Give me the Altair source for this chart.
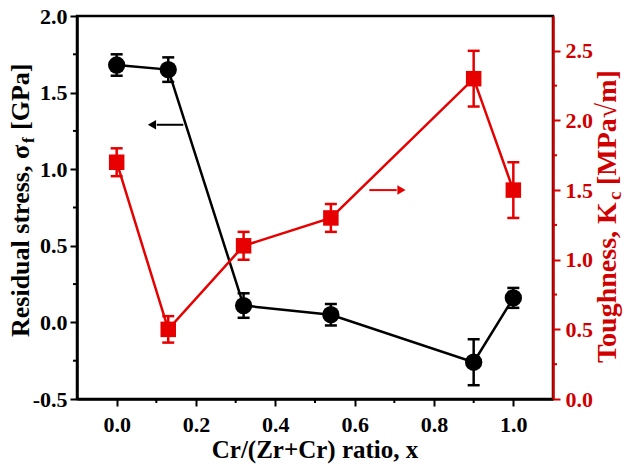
import altair as alt
import pandas as pd

# ---- data ----
ratio = [0.0, 0.13, 0.32, 0.54, 0.90, 1.00]
stress = [1.68, 1.65, 0.11, 0.05, -0.26, 0.16]
stress_err = [0.07, 0.08, 0.08, 0.07, 0.15, 0.065]
tough = [1.70, 0.50, 1.10, 1.30, 2.30, 1.50]
tough_err = [0.10, 0.095, 0.10, 0.10, 0.20, 0.20]

x_major = [0.0, 0.2, 0.4, 0.6, 0.8, 1.0]
x_minor = [0.1, 0.3, 0.5, 0.7, 0.9]
left_major = [-0.5, 0.0, 0.5, 1.0, 1.5, 2.0]
left_minor = [-0.25, 0.25, 0.75, 1.25, 1.75]
right_major = [0.0, 0.5, 1.0, 1.5, 2.0, 2.5]
right_minor = [0.25, 0.75, 1.25, 1.75, 2.25]

# annotation arrows (data units)
arrow_left_x = [0.168, 0.089]   # tail, head
arrow_left_y = [1.29]
arrow_right_x = [0.637, 0.718]  # tail, head
arrow_right_y = [1.50]

FONT = "Liberation Serif"
BLACK = "#000000"
RED = "#e60000"
RED_TXT = "#d00000"
LW = 2.5

df = pd.DataFrame({"x": ratio, "s": stress, "se": stress_err,
                   "t": tough, "te": tough_err})

xscale = alt.Scale(domain=[-0.1, 1.1], nice=False, zero=False)
lscale = alt.Scale(domain=[-0.5, 2.0], nice=False, zero=False)
rscale = alt.Scale(domain=[0.0, 2.75], nice=False, zero=False)


def axis(values, color, orient, pad):
    return alt.Axis(
        values=values, orient=orient, title=None, grid=False, format=".1f",
        labelExpr="replace(datum.label, '\u2212', '-')",
        tickSize=7, tickWidth=2, tickColor=color, domainColor=color,
        domainWidth=LW, labelColor=color, labelFont=FONT,
        labelFontWeight="bold", labelFontSize=22, labelPadding=pad,
        labelFlush=False, labelOverlap=False,
    )


xaxis = axis(x_major, BLACK, "bottom", 8)
laxis = axis(left_major, BLACK, "left", 3)
raxis = axis(right_major, RED_TXT, "right", 5)

base = alt.Chart(df)
X = alt.X("x:Q", scale=xscale, axis=xaxis)
Xs = alt.X("x:Q", scale=xscale)

# ---- minor ticks drawn through the scales ----
mx = alt.Chart(pd.DataFrame({"x": x_minor})).mark_rule(
    color=BLACK, strokeWidth=2).encode(
    Xs, y=alt.value(383), y2=alt.value(387))
ml = alt.Chart(pd.DataFrame({"s": left_minor})).mark_rule(
    color=BLACK, strokeWidth=2).encode(
    alt.Y("s:Q", scale=lscale), x=alt.value(0), x2=alt.value(-4))
mr = alt.Chart(pd.DataFrame({"t": right_minor})).mark_rule(
    color=RED_TXT, strokeWidth=2).encode(
    alt.Y("t:Q", scale=rscale), x=alt.value(476), x2=alt.value(480))

# ---- stress (left axis, black) ----
s_line = base.mark_line(color=BLACK, strokeWidth=LW).encode(
    X, alt.Y("s:Q", scale=lscale, axis=laxis))
s_err = base.transform_calculate(
    lo="datum.s - datum.se", hi="datum.s + datum.se"
).mark_rule(color=BLACK, strokeWidth=LW).encode(
    Xs, alt.Y("lo:Q", scale=lscale), alt.Y2("hi:Q"))
s_caps = base.transform_calculate(
    lo="datum.s - datum.se", hi="datum.s + datum.se"
).transform_fold(["lo", "hi"], as_=["k", "v"]).mark_tick(
    orient="horizontal", color=BLACK, size=12, thickness=2.5, opacity=1
).encode(Xs, alt.Y("v:Q", scale=lscale))
s_pts = base.mark_point(shape="circle", filled=True, size=300, color=BLACK,
                        opacity=1).encode(Xs, alt.Y("s:Q", scale=lscale))

al = pd.DataFrame({"x": [arrow_left_x[0]], "x2": [arrow_left_x[1] + 0.012],
                   "hx": [arrow_left_x[1]], "s": arrow_left_y})
al_rule = alt.Chart(al).mark_rule(color=BLACK, strokeWidth=2).encode(
    Xs, alt.X2("x2:Q"), alt.Y("s:Q", scale=lscale))
al_head = alt.Chart(al).mark_point(shape="triangle-left", filled=True, size=90,
                                   color=BLACK, opacity=1).encode(
    alt.X("hx:Q", scale=xscale), alt.Y("s:Q", scale=lscale))

# ---- toughness (right axis, red) ----
t_line = base.mark_line(color=RED, strokeWidth=LW).encode(
    Xs, alt.Y("t:Q", scale=rscale, axis=raxis))
t_err = base.transform_calculate(
    lo="datum.t - datum.te", hi="datum.t + datum.te"
).mark_rule(color=RED, strokeWidth=LW).encode(
    Xs, alt.Y("lo:Q", scale=rscale), alt.Y2("hi:Q"))
t_caps = base.transform_calculate(
    lo="datum.t - datum.te", hi="datum.t + datum.te"
).transform_fold(["lo", "hi"], as_=["k", "v"]).mark_tick(
    orient="horizontal", color=RED, size=12, thickness=2.5, opacity=1
).encode(Xs, alt.Y("v:Q", scale=rscale))
t_pts = base.mark_point(shape="square", filled=True, size=240, color=RED,
                        opacity=1).encode(Xs, alt.Y("t:Q", scale=rscale))

ar = pd.DataFrame({"x": [arrow_right_x[0]], "x2": [arrow_right_x[1] - 0.012],
                   "hx": [arrow_right_x[1]], "t": arrow_right_y})
ar_rule = alt.Chart(ar).mark_rule(color=RED, strokeWidth=2).encode(
    Xs, alt.X2("x2:Q"), alt.Y("t:Q", scale=rscale))
ar_head = alt.Chart(ar).mark_point(shape="triangle-right", filled=True, size=90,
                                   color=RED, opacity=1).encode(
    alt.X("hx:Q", scale=xscale), alt.Y("t:Q", scale=rscale))

# ---- axis titles as text (with subscripts) ----
one = pd.DataFrame({"d": [0]})


def txt(text, x, y, size=24, color=BLACK, angle=0, align="left"):
    return alt.Chart(one).mark_text(
        text=text, font=FONT, fontWeight="bold", fontSize=size, color=color,
        angle=angle, align=align, baseline="alphabetic"
    ).encode(x=alt.value(x), y=alt.value(y))


LS, LSS = 26, 17
RS, RSS = 28, 19
la = 194   # width of "Residual stress, σ" at LS
lf = 6     # width of subscript f
ra = 163   # width of "Toughness, K" at RS
rc = 8     # width of subscript c
titles = [
    txt("Cr/(Zr+Cr) ratio, x", 238, 442, 25, BLACK, 0, "center"),
    txt("Residual stress, \u03c3", -48, 321, LS, BLACK, 270),
    txt("f", -43, 321 - la, LSS, BLACK, 270),
    txt("[GPa]", -48, 321 - la - lf - 7, LS, BLACK, 270),
    txt("Toughness, K", 539, 347, RS, RED_TXT, 270),
    txt("c", 544, 347 - ra, RSS, RED_TXT, 270),
    txt("[MPa\u221am]", 539, 347 - ra - rc - 7, RS, RED_TXT, 270),
]

left = alt.layer(s_line, s_err, s_caps, s_pts, al_rule, al_head, ml)
right = alt.layer(t_line, t_err, t_caps, t_pts, ar_rule, ar_head, mr)

chart = alt.layer(left, right, mx, *titles).resolve_scale(y="independent").properties(
    width=476, height=383,
    autosize=alt.AutoSizeParams(type="none"),
    padding={"left": 77, "top": 16, "right": 71, "bottom": 65},
).configure_view(stroke=BLACK, strokeWidth=LW)

chart.save("out.html", embed_options={"renderer": "svg", "actions": False})
